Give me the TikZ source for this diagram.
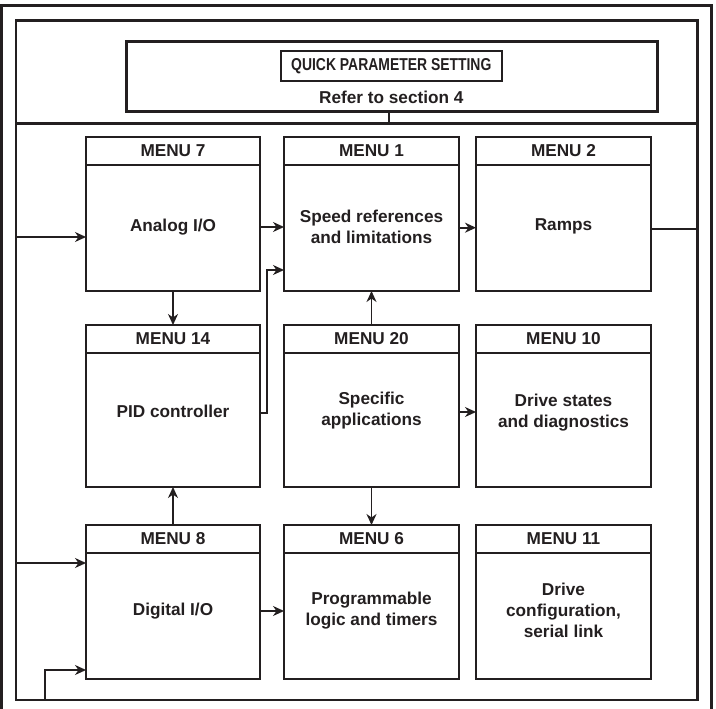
\documentclass[tikz,border=0pt]{standalone}
\usepackage{fontspec}
\setmainfont{Liberation Sans}
\newfontfamily\condfont{Liberation Sans}[FakeStretch=0.81]
\usetikzlibrary{arrows.meta}
\definecolor{ink}{RGB}{35,31,32}

% one menu block: name, left, top, width, height, title, body, body centre below top
\newcommand\drawmenu[8]{%
  \node[menubox, minimum width=#4pt, minimum height=#5pt] (#1) at (#2,#3) {};
  \draw[boxline] ([yshift=-28pt]#1.north west) -- ([yshift=-28pt]#1.north east);
  \node[menutitle] (#1-title) at ([yshift=-14pt]#1.north) {#6};
  \node[menutext] (#1-text) at ([yshift=-#8pt]#1.north) {#7};
}

\begin{document}
\begin{tikzpicture}[x=1pt, y=-1pt,
  txt/.style={text=ink, inner sep=0pt, font=\fontsize{17.2}{21}\selectfont\bfseries},
  boxline/.style={draw=ink, line width=1.8pt},
  menubox/.style={boxline, anchor=north west, inner sep=0pt, outer sep=0pt},
  menutitle/.style={txt},
  menutext/.style={txt, align=center},
  heavy/.style={draw=ink, line width=3pt},
  plain/.style={draw=ink, line width=1.7pt},
  conn/.style={plain, -{Stealth[length=11pt, width=10pt, inset=3.5pt]}},
]
\useasboundingbox (0,0) rectangle (716,709);
\clip (0,0) rectangle (716,709);

% outer frame, open at the bottom edge
\draw[heavy] (1.5,720) -- (1.5,6) -- (711.5,6) -- (711.5,720);

% inner panel and the divider under the heading
\node[heavy, line width=2.7pt, anchor=north west, inner sep=0pt, outer sep=0pt,
      minimum width=681.3pt, minimum height=679.3pt] (panel) at (16,20.7) {};
\coordinate (divL) at (panel.west |- 0,124);
\coordinate (divR) at (panel.east |- 0,124);
\draw[heavy] (divL) -- (divR);

% heading block
\node[heavy, line width=3.2pt, anchor=north west, inner sep=0pt, outer sep=0pt,
      minimum width=530.6pt, minimum height=70pt] (quick) at (126.7,41.7) {};
\node[draw=ink, line width=2pt, inner sep=0pt, minimum width=221.3pt, minimum height=29.3pt,
      txt, font=\fontsize{17.2}{21}\selectfont\condfont\bfseries] (qps) at (391.3,65.9)
      {QUICK PARAMETER SETTING};
\node[txt] (refer) at (391.3,97) {Refer to section 4};
\draw[plain] (389.3,0 |- quick.south) -- (389.3,0 |- divL);

% menu blocks
\drawmenu{m7}{86}{137}{174}{154}{MENU 7}{Analog I/O}{90}
\drawmenu{m1}{284}{137}{175}{154}{MENU 1}{Speed references\\and limitations}{90}
\drawmenu{m2}{476}{137}{175}{154}{MENU 2}{Ramps}{89}
\drawmenu{m14}{86}{325}{174}{162}{MENU 14}{PID controller}{86}
\drawmenu{m20}{284}{325}{175}{162}{MENU 20}{Specific\\applications}{86}
\drawmenu{m10}{476}{325}{175}{162}{MENU 10}{Drive states\\and diagnostics}{88}
\drawmenu{m8}{86}{525}{174}{154}{MENU 8}{Digital I/O}{86}
\drawmenu{m6}{284}{525}{175}{154}{MENU 6}{Programmable\\logic and timers}{86}
\drawmenu{m11}{476}{525}{175}{154}{MENU 11}{Drive\\configuration,\\serial link}{85}

% connectors
\draw[conn] (panel.west |- 0,237) -- (m7.west |- 0,237);
\draw[conn] (m7.east |- 0,227) -- (m1.west |- 0,227);
\draw[conn] (m1.east |- 0,227.7) -- (m2.west |- 0,227.7);
\draw[plain] (m2.east |- 0,229) -- (panel.east |- 0,229);
\draw[conn] (m7.south) -- (m14.north);
\draw[conn] (m14.east |- 0,413) -- ++(7,0) |- (m1.west |- 0,270);
\draw[conn] (m20.north) -- (m1.south);
\draw[conn] (m20.east |- 0,412) -- (m10.west |- 0,412);
\draw[conn] (m20.south) -- (m6.north);
\draw[conn] (m8.north) -- (m14.south);
\draw[conn] (panel.west |- 0,563) -- (m8.west |- 0,563);
\draw[conn] (45,0 |- panel.south) |- (m8.west |- 0,670);
\draw[conn] (m8.east |- 0,611) -- (m6.west |- 0,611);
\end{tikzpicture}
\end{document}
